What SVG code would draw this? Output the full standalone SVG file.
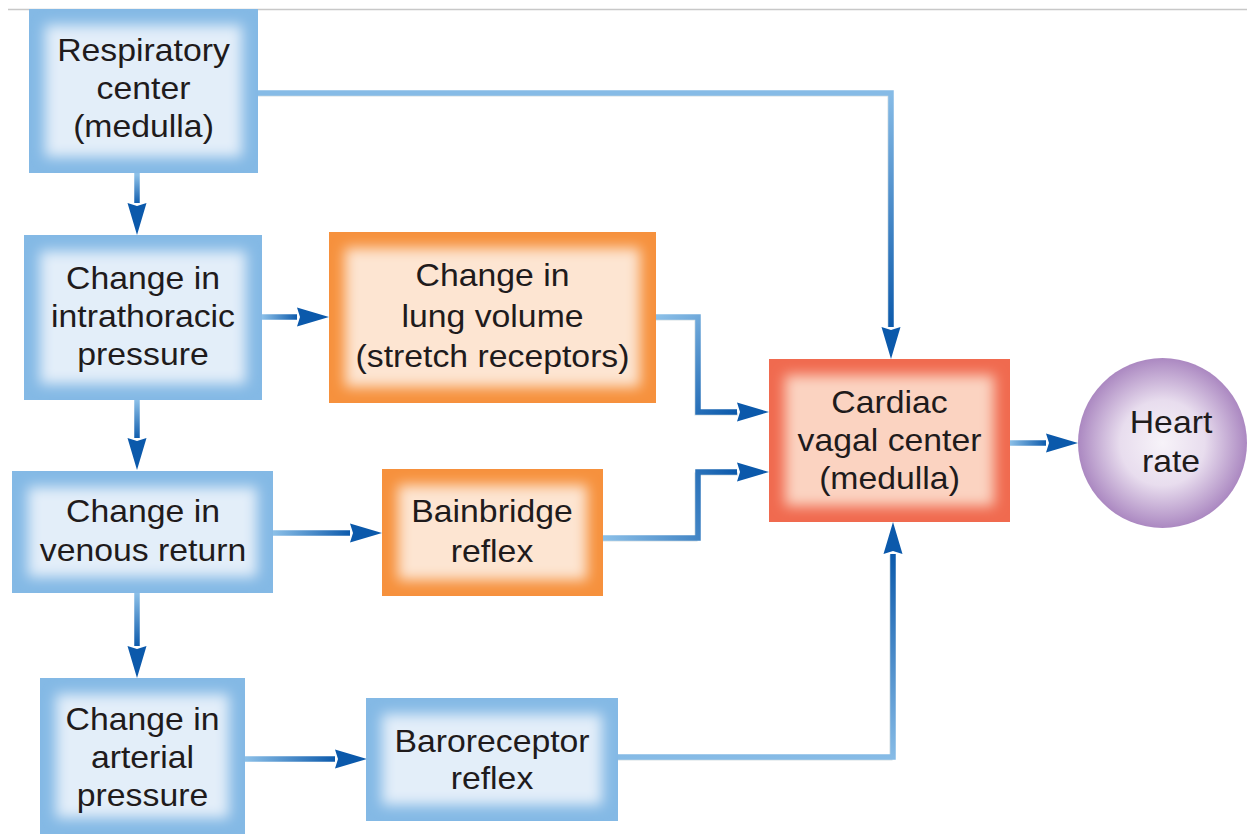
<svg xmlns="http://www.w3.org/2000/svg" width="1247" height="836" viewBox="0 0 1247 836">
<defs>
<style>
.lbl{font-family:"Liberation Sans",Arial,Helvetica,sans-serif;font-size:31px;fill:#1f1b1c;text-anchor:middle}
.con{fill:none;stroke-width:5.5;stroke-linejoin:miter;stroke-linecap:butt}
.sh{fill:none;stroke:#d6dfe3;stroke-width:3}
.blueO{fill:#84b9e5}.blueI{fill:#e3eef9}
.orO{fill:#f6913d}.orI{fill:#fde5d2}
.redO{fill:#f06a4f}.redI{fill:#fbd3c1}
</style>
<filter id="soft" x="-20%" y="-20%" width="140%" height="140%"><feGaussianBlur stdDeviation="6.5"/></filter>
<marker id="ah" markerUnits="userSpaceOnUse" markerWidth="33" markerHeight="20" refX="0" refY="10" orient="auto">
<path d="M0,0.5 L32,10 L0,19.5 L3,10 z" fill="#0b59ab"/>
</marker>
<radialGradient id="hr" cx="0.5" cy="0.5" r="0.5">
<stop offset="0" stop-color="#f7f3f9"/><stop offset="0.5" stop-color="#e8ddee"/><stop offset="1" stop-color="#ab88c1"/>
</radialGradient>
<linearGradient id="g1" gradientUnits="userSpaceOnUse" x1="0" y1="175" x2="0" y2="205"><stop offset="0" stop-color="#8cc0e8"/><stop offset="1" stop-color="#0b59ab"/></linearGradient>
<linearGradient id="g2" gradientUnits="userSpaceOnUse" x1="0" y1="95" x2="0" y2="329"><stop offset="0" stop-color="#86bbe6"/><stop offset="1" stop-color="#0b59ab"/></linearGradient>
<linearGradient id="g3" gradientUnits="userSpaceOnUse" x1="262" y1="0" x2="298" y2="0"><stop offset="0" stop-color="#8cc0e8"/><stop offset="1" stop-color="#0b59ab"/></linearGradient>
<linearGradient id="g4" gradientUnits="userSpaceOnUse" x1="656" y1="317" x2="738" y2="412"><stop offset="0" stop-color="#8cc0e8"/><stop offset="1" stop-color="#0b59ab"/></linearGradient>
<linearGradient id="g5" gradientUnits="userSpaceOnUse" x1="0" y1="400" x2="0" y2="440"><stop offset="0" stop-color="#8cc0e8"/><stop offset="1" stop-color="#0b59ab"/></linearGradient>
<linearGradient id="g6" gradientUnits="userSpaceOnUse" x1="273" y1="0" x2="351" y2="0"><stop offset="0" stop-color="#8cc0e8"/><stop offset="1" stop-color="#0b59ab"/></linearGradient>
<linearGradient id="g7" gradientUnits="userSpaceOnUse" x1="603" y1="538" x2="738" y2="472"><stop offset="0" stop-color="#8cc0e8"/><stop offset="1" stop-color="#0b59ab"/></linearGradient>
<linearGradient id="g8" gradientUnits="userSpaceOnUse" x1="0" y1="593" x2="0" y2="647"><stop offset="0" stop-color="#8cc0e8"/><stop offset="1" stop-color="#0b59ab"/></linearGradient>
<linearGradient id="g9" gradientUnits="userSpaceOnUse" x1="245" y1="0" x2="336" y2="0"><stop offset="0" stop-color="#8cc0e8"/><stop offset="1" stop-color="#0b59ab"/></linearGradient>
<linearGradient id="g10" gradientUnits="userSpaceOnUse" x1="0" y1="757" x2="0" y2="553"><stop offset="0" stop-color="#86bbe6"/><stop offset="1" stop-color="#0b59ab"/></linearGradient>
<linearGradient id="g11" gradientUnits="userSpaceOnUse" x1="1010" y1="0" x2="1047" y2="0"><stop offset="0" stop-color="#8cc0e8"/><stop offset="1" stop-color="#0b59ab"/></linearGradient>
</defs>
<rect width="1247" height="836" fill="#ffffff"/>
<line x1="8" y1="9.5" x2="1247" y2="9.5" stroke="#c8c8c8" stroke-width="1.5"/>

<g id="connectors">
<path class="sh" d="M258,95 H889 V327"/>
<path class="sh" d="M618,759 H891 V555"/>
<path class="sh" d="M656,319 H696 V414 H738"/>
<path class="sh" d="M603,540 H696 V474 H738"/>
<path class="con" stroke="url(#g1)" d="M137,173 V203" marker-end="url(#ah)"/>
<path class="con" stroke="url(#g2)" d="M258,93 H891 V327" marker-end="url(#ah)"/>
<path class="con" stroke="url(#g3)" d="M262,317 H297" marker-end="url(#ah)"/>
<path class="con" stroke="url(#g4)" d="M656,317 H698 V412 H737" marker-end="url(#ah)"/>
<path class="con" stroke="url(#g5)" d="M137,400 V438" marker-end="url(#ah)"/>
<path class="con" stroke="url(#g6)" d="M273,533 H350" marker-end="url(#ah)"/>
<path class="con" stroke="url(#g7)" d="M603,538 H698 V472 H737" marker-end="url(#ah)"/>
<path class="con" stroke="url(#g8)" d="M137,593 V646" marker-end="url(#ah)"/>
<path class="con" stroke="url(#g9)" d="M245,759 H335" marker-end="url(#ah)"/>
<path class="con" stroke="url(#g10)" d="M618,757 H893 V554" marker-end="url(#ah)"/>
<path class="con" stroke="url(#g11)" d="M1010,443 H1046" marker-end="url(#ah)"/>
</g>

<g id="respiratory">
<rect class="blueO" x="29" y="9" width="229" height="164"/>
<rect class="blueI" x="45" y="25" width="197" height="132" filter="url(#soft)"/>
<text class="lbl" transform="translate(143.5 0) scale(1.09 1)"><tspan x="0" y="61">Respiratory</tspan><tspan x="0" y="99">center</tspan><tspan x="0" y="137">(medulla)</tspan></text>
</g>

<g id="intrathoracic">
<rect class="blueO" x="24" y="235" width="238" height="165"/>
<rect class="blueI" x="40" y="251" width="206" height="133" filter="url(#soft)"/>
<text class="lbl" transform="translate(143 0) scale(1.09 1)"><tspan x="0" y="289">Change in</tspan><tspan x="0" y="327">intrathoracic</tspan><tspan x="0" y="365">pressure</tspan></text>
</g>

<g id="lungvolume">
<rect class="orO" x="329" y="232" width="327" height="171"/>
<rect class="orI" x="345" y="248" width="295" height="139" filter="url(#soft)"/>
<text class="lbl" transform="translate(492.5 0) scale(1.09 1)"><tspan x="0" y="286">Change in</tspan><tspan x="0" y="327">lung volume</tspan><tspan x="0" y="367">(stretch receptors)</tspan></text>
</g>

<g id="venous">
<rect class="blueO" x="12" y="471" width="261" height="122"/>
<rect class="blueI" x="28" y="487" width="229" height="90" filter="url(#soft)"/>
<text class="lbl" transform="translate(143 0) scale(1.09 1)"><tspan x="0" y="522">Change in</tspan><tspan x="0" y="561">venous return</tspan></text>
</g>

<g id="bainbridge">
<rect class="orO" x="382" y="469" width="221" height="127"/>
<rect class="orI" x="398" y="485" width="189" height="95" filter="url(#soft)"/>
<text class="lbl" transform="translate(492 0) scale(1.09 1)"><tspan x="0" y="522">Bainbridge</tspan><tspan x="0" y="562">reflex</tspan></text>
</g>

<g id="arterial">
<rect class="blueO" x="40" y="678" width="205" height="156"/>
<rect class="blueI" x="56" y="694" width="173" height="124" filter="url(#soft)"/>
<text class="lbl" transform="translate(142.5 0) scale(1.09 1)"><tspan x="0" y="730">Change in</tspan><tspan x="0" y="768">arterial</tspan><tspan x="0" y="806">pressure</tspan></text>
</g>

<g id="baroreceptor">
<rect class="blueO" x="366" y="698" width="252" height="123"/>
<rect class="blueI" x="382" y="714" width="220" height="91" filter="url(#soft)"/>
<text class="lbl" transform="translate(492 0) scale(1.09 1)"><tspan x="0" y="752">Baroreceptor</tspan><tspan x="0" y="789">reflex</tspan></text>
</g>

<g id="cardiac">
<rect class="redO" x="769" y="359" width="241" height="163"/>
<rect class="redI" x="785" y="375" width="209" height="131" filter="url(#soft)"/>
<text class="lbl" transform="translate(889.5 0) scale(1.09 1)"><tspan x="0" y="413">Cardiac</tspan><tspan x="0" y="451">vagal center</tspan><tspan x="0" y="489">(medulla)</tspan></text>
</g>

<g id="heartrate">
<ellipse cx="1162.5" cy="443" rx="84.5" ry="85" fill="url(#hr)"/>
<text class="lbl" transform="translate(1171 0) scale(1.09 1)"><tspan x="0" y="433">Heart</tspan><tspan x="0" y="472">rate</tspan></text>
</g>
</svg>
